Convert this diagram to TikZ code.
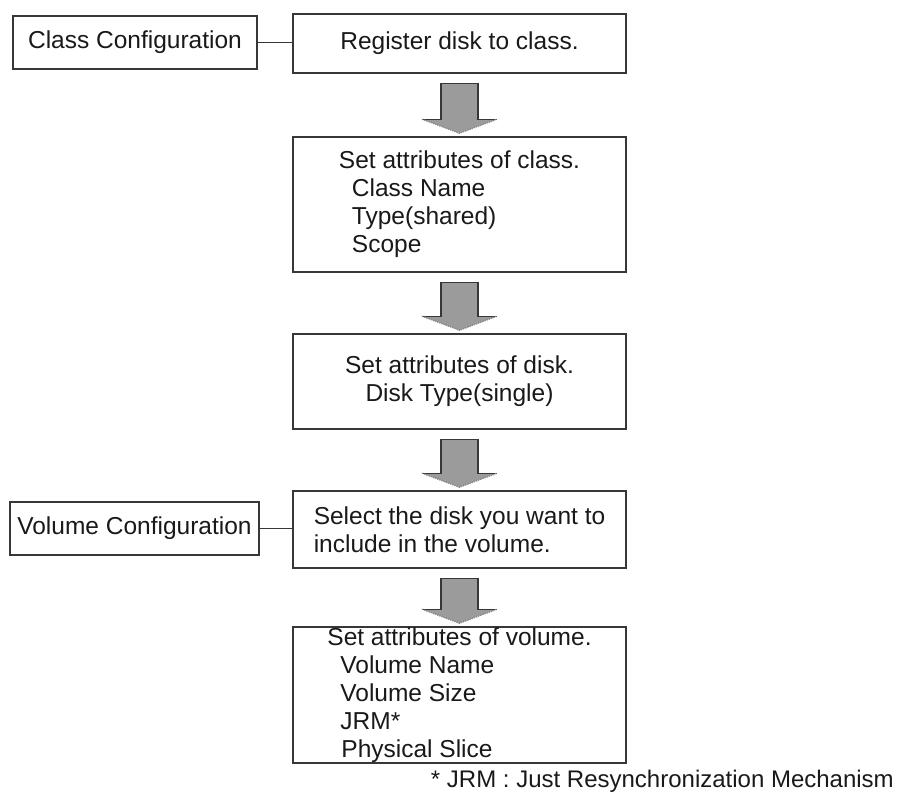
\documentclass[tikz,border=0pt]{standalone}
\usepackage{fontspec}
\setmainfont{Liberation Sans}
\usetikzlibrary{calc}
\definecolor{boxline}{RGB}{55,55,55}
\definecolor{arrowgray}{RGB}{155,155,155}
\definecolor{txtgray}{RGB}{25,25,25}

% block arrow from the bottom of one box to the top of the next
\newcommand{\blockarrow}[2]{%
  \fill[arrowgray] ($(#1.south)+(-18.5,-10)$) -- ($(#1.south)+(18.5,-10)$) -- ($(#2.north)+(18.5,17)$)
    -- ($(#2.north)+(37.5,17)$) -- ($(#2.north)+(0,3)$) -- ($(#2.north)+(-37.5,17)$) -- ($(#2.north)+(-18.5,17)$) -- cycle;
  \draw[boxline, line width=1.3pt] ($(#2.north)+(-37.5,17)$) -- ($(#2.north)+(-18.5,17)$) -- ($(#1.south)+(-18.5,-10)$)
    -- ($(#1.south)+(18.5,-10)$) -- ($(#2.north)+(18.5,17)$) -- ($(#2.north)+(37.5,17)$);
  \draw[boxline!60, line width=1.3pt, densely dotted] ($(#2.north)+(-37.5,17)$) -- ($(#2.north)+(0,3)$) -- ($(#2.north)+(37.5,17)$);}

\begin{document}
\begin{tikzpicture}[x=1pt, y=1pt,
    every node/.style={font=\fontsize{24.5}{28}\selectfont, text=txtgray},
    stepbox/.style={draw=boxline, line width=1.6pt, minimum width=333pt, inner sep=0pt, align=left},
    confbox/.style={draw=boxline, line width=1.6pt, minimum height=53pt, inner sep=0pt}]
  \useasboundingbox (0,0) rectangle (897,-792);

  % configuration labels
  \node[confbox, minimum width=244pt] (classconf) at (135,-42.5) {Class Configuration};
  \node[confbox, minimum width=249pt] (volconf) at (134.5,-528.5) {Volume Configuration};

  % steps
  \node[stepbox, minimum height=59pt] (register) at (459.5,-43.5) {Register disk to class.};
  \node[stepbox, minimum height=135pt] (classattr) at (459.5,-204.5)
    {Set attributes of class.\\\hspace*{13pt}Class Name\\\hspace*{13pt}Type(shared)\\\hspace*{13pt}Scope};
  \node[stepbox, minimum height=95pt, align=center] (diskattr) at (459.5,-381.5)
    {Set attributes of disk.\\Disk Type(single)};
  \node[stepbox, minimum height=77pt] (selectdisk) at (459.5,-529.5)
    {Select the disk you want to\\include in the volume.};
  \node[stepbox, minimum height=136pt] (volattr) at (459.5,-695)
    {Set attributes of volume.\\\hspace*{13pt}Volume Name\\\hspace*{13pt}Volume Size\\\hspace*{13pt}JRM*\\\hspace*{14pt}Physical Slice};

  % links from the labels
  \draw[boxline, line width=1.6pt] (classconf.east) -- (classconf.east -| register.west);
  \draw[boxline, line width=1.6pt] (volconf.east) -- (volconf.east -| selectdisk.west);

  % flow
  \blockarrow{register}{classattr}
  \blockarrow{classattr}{diskattr}
  \blockarrow{diskattr}{selectdisk}
  \blockarrow{selectdisk}{volattr}

  % footnote
  \node[anchor=base east, inner sep=0pt, font=\fontsize{24}{28}\selectfont] (note) at (894,-787)
    {* JRM : Just Resynchronization Mechanism};
\end{tikzpicture}
\end{document}
